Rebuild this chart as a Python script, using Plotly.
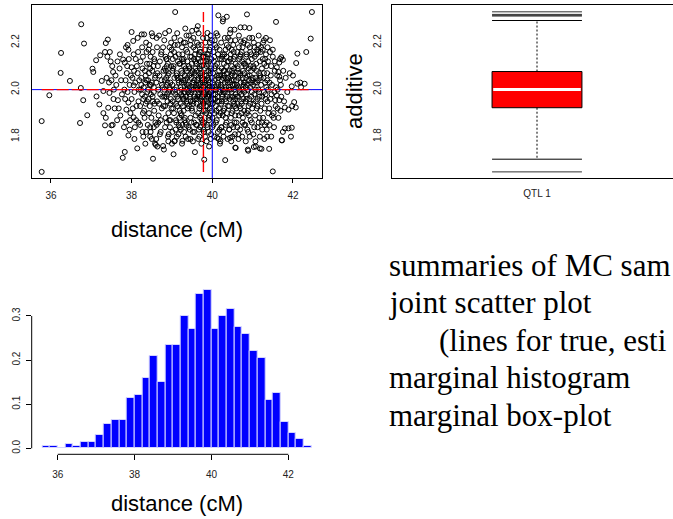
import plotly.graph_objects as go

W, H = 673, 519

# ---- MC samples: (distance cM, additive) ----
mc_draws = [
    (35.77, 1.65), (35.77, 1.866), (35.96, 1.976), (36.25, 2.156), (36.24, 2.071), (36.47, 2.037),
    (36.75, 2.278), (36.82, 2.196), (36.74, 2.007), (36.80, 1.955), (36.90, 1.891), (36.72, 1.858),
    (37.03, 2.089), (37.05, 2.075), (37.12, 2.125), (37.13, 1.971), (37.22, 2.146), (37.20, 1.937),
    (37.26, 2.037), (37.30, 1.994), (37.34, 2.160), (37.36, 2.198), (37.41, 2.213), (37.46, 2.16),
    (37.30, 1.90), (37.36, 1.88), (37.34, 1.848), (37.42, 1.923), (37.46, 1.815), (37.50, 1.848),
    (37.53, 1.85), (37.45, 1.986), (37.50, 2.04), (37.54, 2.075), (37.56, 2.0), (37.38, 2.05),
    (37.44, 2.03), (37.58, 1.92), (37.52, 2.10), (37.40, 2.14), (37.48, 2.12), (37.55, 1.96),
    (37.65, 2.12), (37.66, 1.955), (37.68, 1.92), (37.72, 1.89), (37.78, 1.71), (37.60, 2.06),
    (37.62, 2.02), (37.70, 2.09), (37.74, 2.04), (37.76, 1.98), (37.64, 1.87), (37.79, 2.128), (37.71, 2.15),
    (37.83, 1.735), (37.81, 1.84), (37.86, 1.86), (37.92, 1.805), (37.87, 1.915), (37.92, 1.945),
    (37.83, 2.115), (37.86, 2.18), (37.92, 2.17), (37.93, 2.13), (37.82, 2.0), (37.85, 2.04),
    (37.88, 2.07), (37.90, 1.99), (37.95, 2.02), (37.97, 1.90), (37.84, 1.96), (37.98, 2.06),
    (37.89, 2.10), (37.96, 1.87),
    (38.00, 2.245), (38.04, 2.207), (38.00, 2.095), (38.05, 2.018), (38.00, 1.96), (38.05, 1.882),
    (38.08, 1.84), (38.14, 1.75), (38.02, 2.05), (38.07, 1.99), (38.10, 2.13), (38.12, 1.93),
    (38.15, 2.07), (38.18, 2.0), (38.11, 1.87), (38.16, 2.16), (38.03, 1.92), (38.09, 2.03),
    (38.13, 2.10), (38.17, 1.95), (38.19, 2.04), (38.06, 2.08),
    (38.25, 2.235), (38.31, 2.235), (38.22, 2.12), (38.24, 2.05), (38.26, 1.98), (38.28, 1.90),
    (38.21, 1.85), (38.30, 2.01), (38.33, 2.08), (38.35, 1.94), (38.37, 2.16), (38.23, 2.0),
    (38.27, 2.09), (38.29, 1.96), (38.32, 1.88), (38.34, 2.03), (38.36, 1.82), (38.38, 2.11),
    (38.39, 1.99), (38.21, 1.93), (38.26, 2.18), (38.31, 1.91), (38.35, 2.06), (38.38, 1.95),
    (38.24, 2.02), (38.29, 1.80), (38.33, 1.97), (38.37, 2.04),
    (38.52, 2.227), (38.53, 1.706), (38.41, 2.0), (38.43, 2.07), (38.45, 1.93), (38.47, 2.14),
    (38.49, 1.88), (38.50, 2.03), (38.52, 1.97), (38.54, 2.10), (38.56, 1.91), (38.58, 2.05),
    (38.42, 1.96), (38.44, 2.19), (38.46, 1.84), (38.48, 2.02), (38.51, 2.08), (38.53, 1.95),
    (38.55, 1.99), (38.57, 2.12), (38.59, 1.86), (38.41, 2.04), (38.43, 1.90), (38.46, 2.09),
    (38.48, 1.98), (38.50, 1.79), (38.52, 2.16), (38.55, 2.01), (38.57, 1.94), (38.59, 2.06),
    (38.44, 2.11), (38.47, 1.82), (38.58, 1.77), (38.45, 2.02),
    (38.62, 2.22), (38.60, 1.765), (38.64, 1.758), (38.61, 2.03), (38.63, 1.95), (38.65, 2.10),
    (38.67, 1.89), (38.69, 2.06), (38.71, 1.98), (38.73, 2.15), (38.75, 1.92), (38.77, 2.01),
    (38.79, 2.08), (38.62, 1.85), (38.66, 2.0), (38.68, 1.94), (38.70, 2.12), (38.72, 1.87),
    (38.74, 2.04), (38.76, 1.97), (38.78, 2.18), (38.64, 2.07), (38.70, 1.81), (38.75, 2.02), (38.79, 1.93),
    (38.80, 1.745), (38.81, 2.0), (38.82, 2.09), (38.83, 1.93), (38.84, 2.14), (38.85, 1.97),
    (38.86, 2.05), (38.87, 1.86), (38.88, 2.02), (38.89, 1.95), (38.90, 2.11), (38.91, 1.90),
    (38.92, 2.07), (38.93, 1.99), (38.94, 2.18), (38.95, 1.84), (38.96, 2.03), (38.97, 1.96),
    (38.98, 2.10), (38.99, 1.92), (38.82, 2.04), (38.84, 1.88), (38.86, 2.13), (38.88, 1.98),
    (38.90, 2.06), (38.92, 1.81), (38.94, 2.01), (38.96, 1.94), (38.98, 2.20), (38.81, 1.97),
    (38.85, 2.08), (38.89, 2.03), (38.93, 1.87), (38.97, 2.15), (38.83, 2.24), (38.91, 1.78),
    (38.95, 2.0), (38.87, 2.10),
    (39.08, 2.33), (39.04, 1.725), (39.00, 1.77), (39.07, 1.782), (39.01, 2.02), (39.02, 1.95),
    (39.03, 2.09), (39.05, 1.90), (39.06, 2.05), (39.08, 1.98), (39.09, 2.14), (39.10, 1.87),
    (39.11, 2.01), (39.12, 2.07), (39.13, 1.93), (39.14, 2.19), (39.15, 1.96), (39.16, 2.04),
    (39.17, 1.85), (39.18, 2.11), (39.19, 1.99), (39.01, 2.08), (39.03, 1.92), (39.05, 2.16),
    (39.07, 2.0), (39.09, 1.83), (39.11, 2.06), (39.13, 1.97), (39.15, 2.12), (39.17, 2.03),
    (39.19, 1.91), (39.02, 1.99), (39.06, 2.22), (39.10, 1.94), (39.14, 2.05), (39.18, 1.88),
    (39.04, 2.10), (39.12, 1.80),
    (39.26, 1.782), (39.33, 2.26), (39.21, 2.01), (39.22, 1.94), (39.23, 2.08), (39.24, 1.89),
    (39.25, 2.13), (39.27, 1.97), (39.28, 2.04), (39.29, 1.91), (39.30, 2.10), (39.31, 1.99),
    (39.32, 2.06), (39.34, 1.86), (39.35, 2.17), (39.36, 1.95), (39.37, 2.02), (39.38, 2.12),
    (39.39, 1.92), (39.21, 2.05), (39.22, 1.83), (39.24, 2.0), (39.26, 2.15), (39.28, 1.96),
    (39.30, 2.03), (39.32, 1.88), (39.34, 2.09), (39.36, 2.0), (39.38, 1.94), (39.20, 2.11),
    (39.23, 1.98), (39.25, 2.07), (39.27, 1.93), (39.29, 2.20), (39.31, 1.87), (39.33, 2.04),
    (39.35, 1.97), (39.37, 2.08), (39.39, 2.01), (39.22, 1.90), (39.28, 2.12), (39.34, 1.80),
    (39.36, 2.23), (39.24, 2.03), (39.30, 1.96), (39.38, 2.05), (39.32, 1.99), (39.26, 1.85),
    (39.57, 1.734), (39.41, 2.02), (39.42, 1.93), (39.43, 2.09), (39.44, 1.97), (39.45, 2.14),
    (39.46, 1.88), (39.47, 2.05), (39.48, 1.99), (39.49, 2.11), (39.50, 1.91), (39.51, 2.03),
    (39.52, 1.95), (39.53, 2.18), (39.54, 2.0), (39.55, 1.86), (39.56, 2.07), (39.57, 1.96),
    (39.58, 2.12), (39.59, 2.01), (39.41, 1.84), (39.43, 2.06), (39.45, 1.98), (39.47, 2.21),
    (39.49, 1.92), (39.51, 2.08), (39.53, 1.94), (39.55, 2.04), (39.57, 2.15), (39.59, 1.89),
    (39.42, 2.10), (39.44, 2.01), (39.46, 1.95), (39.48, 2.07), (39.50, 2.25), (39.52, 1.82),
    (39.54, 2.03), (39.56, 1.97), (39.58, 2.09), (39.40, 1.99), (39.46, 1.79), (39.50, 2.0), (39.55, 2.13),
    (39.61, 2.255), (39.60, 2.02), (39.61, 1.94), (39.62, 2.08), (39.63, 1.97), (39.64, 2.13),
    (39.65, 1.90), (39.66, 2.05), (39.67, 1.99), (39.68, 2.10), (39.69, 1.93), (39.70, 2.03),
    (39.71, 1.96), (39.72, 2.16), (39.73, 2.0), (39.74, 1.87), (39.75, 2.07), (39.76, 1.95),
    (39.77, 2.12), (39.78, 2.01), (39.79, 1.91), (39.60, 2.06), (39.62, 1.85), (39.63, 2.04),
    (39.65, 1.98), (39.66, 2.19), (39.68, 1.92), (39.69, 2.09), (39.71, 2.0), (39.72, 1.89),
    (39.74, 2.05), (39.75, 1.97), (39.77, 2.22), (39.78, 1.94), (39.61, 2.11), (39.64, 2.0),
    (39.67, 1.83), (39.70, 2.07), (39.73, 1.93), (39.76, 2.03), (39.79, 2.14), (39.62, 1.96),
    (39.66, 2.02), (39.70, 1.88), (39.74, 2.10), (39.78, 1.99), (39.64, 2.27), (39.68, 1.80),
    (39.72, 2.06), (39.76, 1.86), (39.63, 2.01), (39.69, 1.97), (39.75, 2.04), (39.79, 1.82),
    (39.67, 2.15), (39.71, 2.12),
    (39.80, 1.702), (39.88, 2.241), (39.94, 2.20), (39.92, 1.758), (39.80, 2.03), (39.81, 1.95),
    (39.82, 2.09), (39.83, 1.98), (39.84, 2.14), (39.85, 1.90), (39.86, 2.06), (39.87, 2.0),
    (39.88, 1.93), (39.89, 2.11), (39.90, 1.97), (39.91, 2.04), (39.92, 1.87), (39.93, 2.17),
    (39.94, 2.01), (39.95, 1.94), (39.96, 2.08), (39.97, 1.99), (39.98, 2.13), (39.99, 1.91),
    (39.80, 1.86), (39.82, 2.02), (39.83, 2.20), (39.85, 1.96), (39.86, 2.10), (39.88, 1.84),
    (39.89, 2.05), (39.91, 1.98), (39.92, 2.12), (39.94, 1.92), (39.95, 2.07), (39.97, 1.81),
    (39.98, 2.0), (39.81, 2.06), (39.84, 1.93), (39.87, 2.15), (39.90, 2.02), (39.93, 1.89),
    (39.96, 1.96), (39.99, 2.05), (39.82, 1.99), (39.86, 1.78), (39.90, 2.08), (39.94, 2.03),
    (39.98, 1.95), (39.84, 2.04), (39.88, 1.97), (39.92, 2.01), (39.96, 2.23), (39.85, 2.12),
    (39.91, 1.88), (39.97, 2.09), (39.83, 1.91), (39.95, 1.99),
    (40.10, 2.24), (40.15, 2.316), (40.12, 1.795), (40.16, 1.79), (40.00, 2.01), (40.01, 1.94),
    (40.02, 2.07), (40.03, 1.98), (40.04, 2.12), (40.05, 1.90), (40.06, 2.04), (40.07, 1.96),
    (40.08, 2.10), (40.09, 2.0), (40.11, 1.87), (40.12, 2.06), (40.13, 1.95), (40.14, 2.15),
    (40.15, 2.02), (40.16, 1.92), (40.17, 2.08), (40.18, 1.99), (40.19, 2.13), (40.01, 2.03),
    (40.03, 1.85), (40.05, 2.09), (40.07, 2.01), (40.09, 1.93), (40.11, 2.18), (40.13, 1.97),
    (40.15, 2.05), (40.17, 1.89), (40.19, 2.0), (40.02, 1.96), (40.06, 2.21), (40.10, 1.91),
    (40.14, 2.03), (40.18, 1.83), (40.04, 2.0), (40.08, 1.98), (40.12, 2.11), (40.16, 2.06),
    (40.00, 1.88), (40.05, 2.14), (40.17, 1.95),
    (40.27, 2.30), (40.20, 1.78), (40.32, 1.70), (40.36, 2.31), (40.26, 2.29), (40.21, 2.02),
    (40.22, 1.94), (40.23, 2.09), (40.24, 1.98), (40.25, 2.14), (40.26, 1.89), (40.27, 2.05),
    (40.28, 1.99), (40.29, 2.11), (40.30, 1.92), (40.31, 2.03), (40.32, 1.96), (40.33, 2.17),
    (40.34, 2.01), (40.35, 1.86), (40.36, 2.07), (40.37, 1.97), (40.38, 2.12), (40.39, 1.93),
    (40.20, 2.06), (40.22, 1.84), (40.24, 2.04), (40.26, 2.0), (40.28, 1.91), (40.30, 2.08),
    (40.32, 2.0), (40.34, 1.95), (40.36, 2.19), (40.38, 2.03), (40.21, 1.90), (40.23, 2.13),
    (40.25, 1.97), (40.27, 1.82), (40.29, 2.06), (40.31, 1.99), (40.33, 1.88), (40.35, 2.10),
    (40.37, 2.04), (40.39, 2.22), (40.24, 1.95), (40.30, 2.15), (40.36, 1.90), (40.22, 2.01),
    (40.28, 2.08), (40.34, 2.05),
    (40.45, 2.255), (40.55, 2.255), (40.44, 1.795), (40.57, 1.753), (40.58, 1.752), (40.41, 2.01),
    (40.42, 1.93), (40.43, 2.08), (40.44, 1.97), (40.45, 2.13), (40.46, 1.88), (40.47, 2.04),
    (40.48, 1.99), (40.49, 2.10), (40.50, 1.91), (40.51, 2.02), (40.52, 1.95), (40.53, 2.16),
    (40.54, 2.0), (40.55, 1.86), (40.56, 2.06), (40.57, 1.96), (40.58, 2.11), (40.59, 1.92),
    (40.40, 2.05), (40.42, 1.83), (40.44, 2.03), (40.46, 2.0), (40.48, 1.90), (40.50, 2.07),
    (40.52, 2.19), (40.54, 1.94), (40.56, 2.02), (40.58, 1.98), (40.41, 2.12), (40.43, 1.96),
    (40.47, 1.85), (40.49, 2.08), (40.51, 1.97), (40.53, 2.04), (40.55, 2.14), (40.57, 1.89),
    (40.59, 2.01), (40.45, 2.21), (40.50, 1.80), (40.54, 2.09), (40.42, 2.0), (40.48, 2.06),
    (40.56, 1.93), (40.46, 2.15),
    (40.70, 2.265), (40.80, 2.265), (40.71, 2.205), (40.61, 2.02), (40.62, 1.94), (40.63, 2.10),
    (40.64, 1.97), (40.65, 2.05), (40.66, 1.89), (40.67, 2.13), (40.68, 1.99), (40.69, 2.07),
    (40.70, 1.92), (40.71, 2.03), (40.72, 1.95), (40.73, 2.16), (40.74, 2.0), (40.75, 1.86),
    (40.76, 2.08), (40.77, 1.96), (40.78, 2.11), (40.79, 1.91), (40.60, 2.04), (40.62, 1.84),
    (40.64, 2.01), (40.66, 2.18), (40.68, 1.93), (40.70, 2.06), (40.72, 1.98), (40.74, 2.12),
    (40.76, 1.88), (40.78, 2.03), (40.61, 1.97), (40.63, 2.09), (40.65, 1.81), (40.67, 2.0),
    (40.69, 2.14), (40.73, 1.94), (40.75, 2.05), (40.77, 2.20), (40.79, 1.99), (40.64, 2.07),
    (40.72, 1.90), (40.78, 2.02),
    (40.86, 2.32), (40.92, 2.262), (40.88, 1.745), (40.89, 1.74), (40.81, 2.03), (40.82, 1.95),
    (40.83, 2.10), (40.84, 1.98), (40.85, 2.15), (40.86, 1.90), (40.87, 2.06), (40.88, 2.0),
    (40.89, 2.12), (40.90, 1.93), (40.91, 2.04), (40.92, 1.96), (40.93, 2.18), (40.94, 2.01),
    (40.95, 1.87), (40.96, 2.08), (40.97, 1.97), (40.98, 2.13), (40.99, 1.92), (40.80, 2.07),
    (40.82, 1.85), (40.84, 2.05), (40.86, 2.02), (40.88, 1.91), (40.90, 2.09), (40.92, 2.22),
    (40.94, 1.94), (40.96, 2.03), (40.98, 1.99), (40.81, 2.11), (40.85, 1.96), (40.89, 1.82),
    (40.93, 2.06), (40.97, 2.15), (40.83, 2.01), (40.91, 1.89), (40.95, 2.10), (40.99, 2.04),
    (41.03, 2.20), (41.11, 2.17), (41.03, 1.756), (41.08, 1.758), (41.18, 1.75), (41.01, 2.02),
    (41.02, 1.94), (41.03, 2.09), (41.04, 1.98), (41.05, 2.14), (41.06, 1.89), (41.07, 2.05),
    (41.08, 2.0), (41.09, 2.11), (41.10, 1.92), (41.11, 2.03), (41.12, 1.96), (41.13, 2.16),
    (41.14, 2.0), (41.15, 1.86), (41.16, 2.07), (41.17, 1.97), (41.18, 2.12), (41.19, 1.91),
    (41.00, 2.05), (41.04, 1.84), (41.06, 2.03), (41.10, 2.08), (41.12, 1.93), (41.14, 2.19),
    (41.16, 1.99), (41.02, 2.10), (41.08, 1.95), (41.13, 2.04), (41.17, 1.88), (41.19, 2.06),
    (41.28, 2.21), (41.33, 2.22), (41.21, 2.18), (41.22, 1.748), (41.36, 1.80), (41.21, 2.02),
    (41.22, 1.94), (41.23, 2.09), (41.24, 1.97), (41.25, 2.13), (41.26, 1.88), (41.27, 2.05),
    (41.28, 1.99), (41.29, 2.11), (41.30, 1.92), (41.31, 2.03), (41.32, 1.96), (41.33, 2.15),
    (41.34, 2.01), (41.35, 1.86), (41.36, 2.07), (41.37, 1.95), (41.38, 2.12), (41.39, 1.90),
    (41.20, 2.05), (41.24, 1.83), (41.28, 2.07), (41.32, 1.98), (41.36, 2.04), (41.25, 2.17),
    (41.30, 1.85), (41.34, 2.10), (41.38, 2.0),
    (41.50, 1.652), (41.58, 2.288), (41.41, 1.748), (41.48, 1.89), (41.52, 1.90), (41.52, 1.88),
    (41.56, 1.955), (41.42, 2.03), (41.44, 1.96), (41.46, 2.10), (41.48, 2.02), (41.50, 2.14),
    (41.54, 1.99), (41.45, 2.06), (41.41, 1.92), (41.55, 2.08), (41.58, 2.01), (41.43, 2.16),
    (41.57, 1.93), (41.47, 1.98),
    (41.71, 2.138), (41.68, 2.13), (41.75, 2.127), (41.66, 2.115), (41.60, 2.095), (41.64, 2.075),
    (41.66, 2.055), (41.68, 2.04), (41.62, 2.0), (41.60, 1.975), (41.66, 1.955), (41.71, 1.97),
    (41.72, 1.785), (41.73, 1.784), (41.75, 1.82), (41.62, 1.92), (41.70, 2.02), (41.78, 1.95),
    (41.64, 1.88), (41.76, 2.08), (41.69, 1.91), (41.61, 2.06),
    (41.80, 1.924), (41.89, 1.915), (41.80, 1.835), (41.89, 1.835), (41.97, 1.838), (41.95, 1.80),
    (41.97, 2.014), (41.98, 1.93), (41.82, 2.05), (41.86, 1.99), (41.92, 2.07),
    (42.00, 2.06), (42.03, 1.947), (42.07, 1.924), (42.11, 2.153), (42.08, 2.113), (42.11, 2.025),
    (42.18, 2.03), (42.20, 2.01), (42.29, 2.025), (42.33, 2.16), (42.47, 2.33), (42.44, 2.217),
    # upper band of the cloud
    (37.90, 2.19), (38.05, 2.15), (38.15, 2.22), (38.28, 2.14), (38.36, 2.20), (38.42, 2.17),
    (38.50, 2.24), (38.56, 2.13), (38.63, 2.18), (38.68, 2.23), (38.74, 2.16), (38.81, 2.21),
    (38.87, 2.13), (38.93, 2.25), (38.99, 2.17), (39.02, 2.13), (39.07, 2.19), (39.13, 2.24),
    (39.17, 2.15), (39.21, 2.21), (39.25, 2.18), (39.29, 2.13), (39.33, 2.20), (39.38, 2.16),
    (39.42, 2.23), (39.46, 2.19), (39.49, 2.14), (39.53, 2.22), (39.58, 2.17), (39.62, 2.20),
    (39.66, 2.24), (39.69, 2.16), (39.73, 2.19), (39.77, 2.14), (39.82, 2.17), (39.86, 2.22),
    (39.90, 2.15), (39.95, 2.18), (39.99, 2.21), (40.03, 2.16), (40.07, 2.19), (40.13, 2.23),
    (40.18, 2.17), (40.22, 2.20), (40.26, 2.15), (40.31, 2.22), (40.35, 2.14), (40.40, 2.18),
    (40.44, 2.24), (40.48, 2.17), (40.53, 2.13), (40.57, 2.21), (40.62, 2.16), (40.66, 2.23),
    (40.70, 2.15), (40.75, 2.18), (40.80, 2.21), (40.84, 2.14), (40.88, 2.19), (40.94, 2.16),
    (40.99, 2.22), (41.05, 2.18), (41.09, 2.15), (41.15, 2.23), (41.20, 2.16), (41.26, 2.20),
    (41.31, 2.13), (41.37, 2.18), (41.43, 2.21), (41.50, 2.17), (41.55, 2.12),
    # lower band of the cloud
    (37.95, 1.83), (38.07, 1.79), (38.17, 1.86), (38.27, 1.82), (38.34, 1.77), (38.40, 1.85),
    (38.46, 1.80), (38.55, 1.84), (38.61, 1.79), (38.66, 1.86), (38.72, 1.82), (38.78, 1.76),
    (38.83, 1.84), (38.90, 1.80), (38.96, 1.87), (39.01, 1.82), (39.06, 1.78), (39.11, 1.86),
    (39.16, 1.81), (39.20, 1.84), (39.25, 1.77), (39.30, 1.82), (39.35, 1.85), (39.40, 1.79),
    (39.44, 1.83), (39.48, 1.86), (39.52, 1.78), (39.56, 1.82), (39.60, 1.85), (39.65, 1.79),
    (39.70, 1.84), (39.73, 1.77), (39.78, 1.83), (39.82, 1.80), (39.87, 1.85), (39.91, 1.82),
    (39.96, 1.79), (40.00, 1.84), (40.05, 1.80), (40.09, 1.86), (40.14, 1.82), (40.19, 1.77),
    (40.23, 1.84), (40.28, 1.80), (40.33, 1.85), (40.38, 1.79), (40.42, 1.83), (40.47, 1.78),
    (40.52, 1.84), (40.56, 1.81), (40.60, 1.86), (40.65, 1.79), (40.69, 1.83), (40.74, 1.80),
    (40.79, 1.85), (40.83, 1.78), (40.87, 1.83), (40.93, 1.80), (40.98, 1.86), (41.02, 1.81),
    (41.07, 1.78), (41.12, 1.84), (41.18, 1.80), (41.23, 1.86), (41.29, 1.79), (41.35, 1.83),
    (41.42, 1.85), (41.46, 1.80), (41.53, 1.84),
]
distance = [d for d, a in mc_draws]
additive = [a for d, a in mc_draws]

# ---- true and estimated values (blue = true, red = estimate) ----
true_distance, true_additive = 40.0, 2.0
est_distance, est_additive = 39.78, 2.0

# ---- marginal histogram of distance (density, bin width 0.2) ----
hist_bin_left = [35.6, 35.8, 36.0, 36.2, 36.4, 36.6, 36.8, 37.0, 37.2, 37.4, 37.6, 37.8,
                 38.0, 38.2, 38.4, 38.6, 38.8, 39.0, 39.2, 39.4, 39.6, 39.8, 40.0, 40.2,
                 40.4, 40.6, 40.8, 41.0, 41.2, 41.4, 41.6, 41.8, 42.0, 42.2, 42.4]
hist_density = [0.005, 0.005, 0.0, 0.01, 0.005, 0.015, 0.015, 0.03, 0.055, 0.065, 0.065, 0.115,
                0.12, 0.16, 0.21, 0.15, 0.235, 0.235, 0.30, 0.27, 0.35, 0.36, 0.27, 0.30,
                0.315, 0.275, 0.26, 0.22, 0.205, 0.11, 0.125, 0.06, 0.035, 0.02, 0.005]
hist_bin_width = 0.2

# ---- marginal box plot of additive ----
box_label = "QTL 1"
box_q1, box_median, box_q3 = 1.923, 2.0, 2.077
box_whisker_lo, box_whisker_hi = 1.704, 2.294
box_outliers = [1.65, 2.313, 2.316, 2.32, 2.331]

# ---- tick labels and texts ----
dist_ticks = [36, 38, 40, 42]
add_ticks = [1.8, 2.0, 2.2]
dens_ticks = [0.0, 0.1, 0.2, 0.3]
x_title = "distance (cM)"
y_title_box = "additive"
notes = ["summaries of MC sam", "joint scatter plot", "(lines for true, esti",
         "marginal histogram", "marginal box-plot"]

SANS = "Liberation Sans, Arial, Helvetica, sans-serif"
SERIF = "Liberation Serif, Times New Roman, serif"


def px(xp):
    return xp / W


def py(yp):
    return 1 - yp / H


fig = go.Figure()

# joint scatter
fig.add_trace(go.Scatter(
    x=distance, y=additive, mode="markers", xaxis="x", yaxis="y",
    marker=dict(symbol="circle-open", size=5, color="black", line=dict(width=1, color="black")),
    hoverinfo="skip"))

# histogram bars
fig.add_trace(go.Bar(
    x=[l + hist_bin_width / 2 for l in hist_bin_left], y=hist_density, width=hist_bin_width,
    xaxis="x3", yaxis="y3",
    marker=dict(color="#0000ff", line=dict(color="#d4d4ff", width=1))))

# box plot pieces
bw = 0.155
c = 1.0
fig.add_trace(go.Scatter(
    x=[c - bw, c + bw, c + bw, c - bw, c - bw], y=[box_q1, box_q1, box_q3, box_q3, box_q1],
    mode="lines", fill="toself", fillcolor="#ff0000", line=dict(color="black", width=1),
    xaxis="x2", yaxis="y2"))
fig.add_trace(go.Scatter(
    x=[c - bw + 0.004, c + bw - 0.004], y=[box_median, box_median], mode="lines",
    line=dict(color="white", width=3), xaxis="x2", yaxis="y2"))
for y0, y1 in [(box_q3, box_whisker_hi), (box_q1, box_whisker_lo)]:
    fig.add_trace(go.Scatter(x=[c, c], y=[y0, y1], mode="lines",
                             line=dict(color="black", width=1, dash="2px,2px"),
                             xaxis="x2", yaxis="y2"))
for yv in [box_whisker_lo, box_whisker_hi]:
    fig.add_trace(go.Scatter(x=[c - bw, c + bw], y=[yv, yv], mode="lines",
                             line=dict(color="black", width=1), xaxis="x2", yaxis="y2"))
for yv in box_outliers:
    fig.add_trace(go.Scatter(x=[c - bw, c + bw], y=[yv, yv], mode="lines",
                             line=dict(color="#333333", width=1), xaxis="x2", yaxis="y2"))

# reference lines on the scatter
shapes = [
    dict(type="line", xref="x domain", x0=0, x1=1, yref="y", y0=true_additive, y1=true_additive,
         line=dict(color="#0000ff", width=1), layer="above"),
    dict(type="line", xref="x", x0=true_distance, x1=true_distance, yref="y domain", y0=0, y1=1,
         line=dict(color="#0000ff", width=1), layer="above"),
    dict(type="line", xref="x", x0=min(distance), x1=max(distance), yref="y",
         y0=est_additive, y1=est_additive,
         line=dict(color="#ff0000", width=1.4, dash="12px,3px"), layer="above"),
    dict(type="line", xref="x", x0=est_distance, x1=est_distance, yref="y",
         y0=min(additive), y1=max(additive),
         line=dict(color="#ff0000", width=1.4, dash="12px,3px"), layer="above"),
    # R-style histogram axes spanning the ticks only
    dict(type="line", xref="x3", x0=dist_ticks[0], x1=dist_ticks[-1], yref="y3 domain", y0=0, y1=0,
         line=dict(color="black", width=1)),
    dict(type="line", xref="x3 domain", x0=0, x1=0, yref="y3", y0=dens_ticks[0], y1=dens_ticks[-1],
         line=dict(color="black", width=1)),
]

tickfont = dict(family=SANS, size=10, color="#222222")
frame = dict(showline=True, linecolor="black", linewidth=1, mirror=True,
             showgrid=False, zeroline=False, fixedrange=True)

annotations = [
    dict(text=x_title, x=px(177), y=py(229), xref="paper", yref="paper", showarrow=False,
         xanchor="center", yanchor="middle", font=dict(family=SANS, size=22, color="black")),
    dict(text=x_title, x=px(177), y=py(503), xref="paper", yref="paper", showarrow=False,
         xanchor="center", yanchor="middle", font=dict(family=SANS, size=22, color="black")),
    dict(text=y_title_box, x=px(354), y=py(91), xref="paper", yref="paper", showarrow=False,
         textangle=-90, xanchor="center", yanchor="middle",
         font=dict(family=SANS, size=22, color="black")),
]
note_x = [387, 387, 437, 387, 387]
note_y = [265, 302, 340, 377, 415]
for t, xx, yy in zip(notes, note_x, note_y):
    annotations.append(dict(text=t, x=px(xx), y=py(yy), xref="paper", yref="paper",
                            showarrow=False, xanchor="left", yanchor="middle",
                            font=dict(family=SERIF, size=31, color="black")))

fig.update_layout(
    width=W, height=H, margin=dict(l=0, r=0, t=0, b=0),
    paper_bgcolor="white", plot_bgcolor="white", showlegend=False, bargap=0,
    shapes=shapes, annotations=annotations,
    xaxis=dict(domain=[px(32), px(322)], range=[35.53, 42.72], anchor="y",
               tickvals=dist_ticks, ticks="outside", ticklen=4, tickcolor="black",
               tickfont=tickfont, ticklabelstandoff=4, **frame),
    yaxis=dict(domain=[py(178), py(5)], range=[1.624, 2.36], anchor="x",
               tickvals=add_ticks, tickformat=".1f", ticks="", tickangle=-90,
               tickfont=tickfont, ticklabelstandoff=8, **frame),
    xaxis2=dict(domain=[px(392), 1.0], range=[0.5, 0.5 + (673 - 392) / 290], anchor="y2",
                tickvals=[1], ticktext=[box_label], ticks="",
                tickfont=dict(family=SANS, size=10, color="#222222"), ticklabelstandoff=6,
                showline=True, linecolor="black", linewidth=1, mirror=True,
                showgrid=False, zeroline=False, fixedrange=True),
    yaxis2=dict(domain=[py(178), py(5)], range=[1.624, 2.36], anchor="x2",
                tickvals=add_ticks, tickformat=".1f", ticks="", tickangle=-90,
                tickfont=tickfont, ticklabelstandoff=6,
                showline=True, linecolor="black", linewidth=1, mirror=False,
                showgrid=False, zeroline=False, fixedrange=True),
    xaxis3=dict(domain=[px(31.7), px(322)], range=[35.323, 42.877], anchor="y3",
                tickvals=dist_ticks, ticks="outside", ticklen=5, tickcolor="black",
                tickfont=tickfont, ticklabelstandoff=6,
                showline=False, showgrid=False, zeroline=False, fixedrange=True),
    yaxis3=dict(domain=[py(454.3), py(280)], range=[-0.0136, 0.3816], anchor="x3",
                tickvals=dens_ticks, tickformat=".1f", ticks="outside", ticklen=5,
                tickcolor="black", tickangle=-90, tickfont=tickfont, ticklabelstandoff=2,
                showline=False, showgrid=False, zeroline=False, fixedrange=True),
)

fig.write_html("out.html", config=dict(displayModeBar=False))
